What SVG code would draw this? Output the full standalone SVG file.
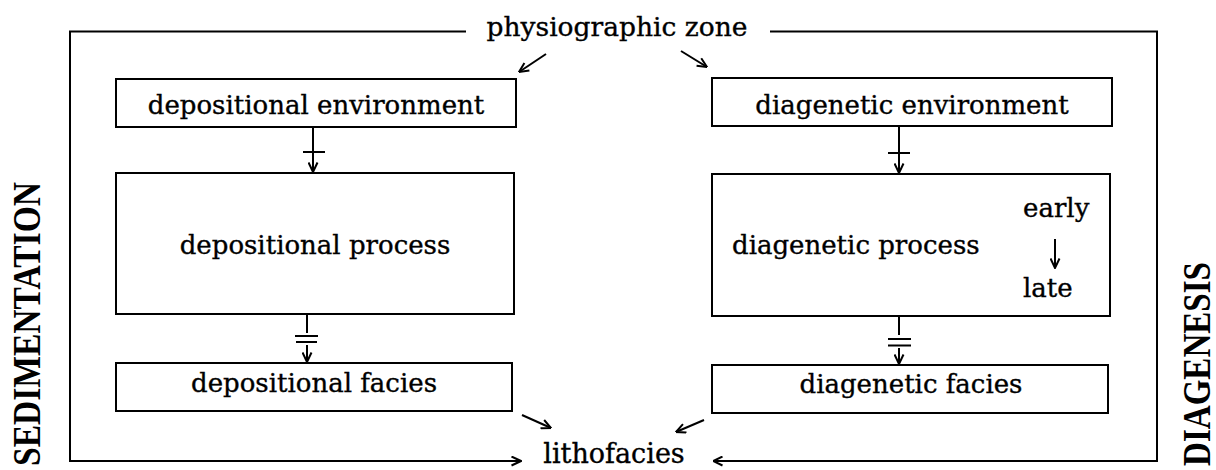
<svg xmlns="http://www.w3.org/2000/svg" width="1216" height="470" viewBox="0 0 1216 470">
<style>
.box{fill:#fff;stroke:#000;stroke-width:2}
.ln{fill:none;stroke:#000;stroke-width:2}
.t{font-family:"DejaVu Serif",serif;font-size:26px;fill:#000;stroke:#000;stroke-width:0.35}
.side{font-family:"Liberation Serif",serif;font-weight:bold;font-size:39px;fill:#000}
</style>
<defs>
<marker id="ah" viewBox="0 0 11 11" refX="10.5" refY="5.5" markerWidth="11" markerHeight="11" markerUnits="userSpaceOnUse" orient="auto">
<path d="M1,1 L10.5,5.5 L1,10" fill="none" stroke="#000" stroke-width="2"/>
</marker>
</defs>
<rect width="1216" height="470" fill="#fff"/>
<g id="frame">
<path class="ln" d="M466,31.5 H70 V461 H521" marker-end="url(#ah)"/>
<path class="ln" d="M770,31.5 H1157 V461 H713" marker-end="url(#ah)"/>
</g>
<g id="physiographic-zone"><text class="t" x="617" y="36" text-anchor="middle" style="font-size:26.5px">physiographic zone</text></g>
<g id="lithofacies"><text class="t" x="614" y="463" text-anchor="middle" style="font-size:27px">lithofacies</text></g>
<g id="sedimentation"><text class="side" transform="translate(40,466) rotate(-90)" textLength="284" lengthAdjust="spacingAndGlyphs">SEDIMENTATION</text></g>
<g id="diagenesis"><text class="side" transform="translate(1210,466) rotate(-90)" textLength="204" lengthAdjust="spacingAndGlyphs">DIAGENESIS</text></g>
<g id="depositional-environment"><rect class="box" x="116" y="79" width="400" height="48"/><text class="t" x="316" y="114" text-anchor="middle">depositional environment</text></g>
<g id="depositional-process"><rect class="box" x="116" y="173" width="398" height="141"/><text class="t" x="315" y="254" text-anchor="middle">depositional process</text></g>
<g id="depositional-facies"><rect class="box" x="116" y="363" width="396" height="48"/><text class="t" x="314" y="392" text-anchor="middle">depositional facies</text></g>
<g id="diagenetic-environment"><rect class="box" x="712" y="78" width="400" height="48"/><text class="t" x="912" y="114" text-anchor="middle">diagenetic environment</text></g>
<g id="diagenetic-process"><rect class="box" x="712" y="174" width="398" height="142"/><text class="t" x="732" y="254">diagenetic process</text><text class="t" x="1023" y="217">early</text><text class="t" x="1023" y="297">late</text><path class="ln" d="M1055,239 V268" marker-end="url(#ah)"/></g>
<g id="diagenetic-facies"><rect class="box" x="712" y="365" width="396" height="48"/><text class="t" x="911" y="393" text-anchor="middle">diagenetic facies</text></g>
<g id="connectors">
<path class="ln" d="M546,54 L519,72" marker-end="url(#ah)"/>
<path class="ln" d="M681,51 L707,67" marker-end="url(#ah)"/>
<path class="ln" d="M522,415 L551,428" marker-end="url(#ah)"/>
<path class="ln" d="M704,420 L676,432" marker-end="url(#ah)"/>
<path class="ln" d="M313,127 V172" marker-end="url(#ah)"/>
<path class="ln" d="M303,152 H325"/>
<path class="ln" d="M899,126 V173" marker-end="url(#ah)"/>
<path class="ln" d="M888,153 H910"/>
<path class="ln" d="M307,314 V333"/>
<path class="ln" d="M295,336 H318 M296,342 H317"/>
<path class="ln" d="M307,345 V362" marker-end="url(#ah)"/>
<path class="ln" d="M899,316 V335"/>
<path class="ln" d="M888,339 H911 M888,345.5 H911"/>
<path class="ln" d="M899,348 V364" marker-end="url(#ah)"/>
</g>
</svg>
